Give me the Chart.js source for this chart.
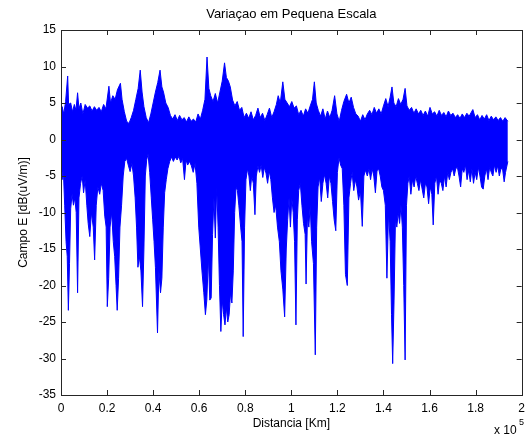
<!DOCTYPE html>
<html>
<head>
<meta charset="utf-8">
<title>Variaçao em Pequena Escala</title>
<script src="https://cdn.jsdelivr.net/npm/chart.js@4"></script>
<style>
  html, body { margin: 0; padding: 0; background: #ffffff; }
  canvas { display: block; }
</style>
</head>
<body>
<canvas id="chart" width="531" height="437"></canvas>
<script>
// distance in units of 1000 (axis shown as x 10^5)
const upperDist = [0, 0.5, 1.2, 2.0, 2.9, 3.3, 4.2, 5.0, 5.8, 6.5, 7.2, 7.8, 8.6, 9.5, 10.5, 11.5, 12.5, 13.5, 14.5, 15.5,
  16.5, 17.5, 18.5, 19.5, 20.8, 21.5, 22.5, 23.5, 24.5, 25.8, 26.5, 27.5, 28.5, 29.5, 30.5, 31.5, 32.5, 33.5, 34.4, 35.2,
  36.0, 37.0, 38.0, 39.0, 40.0, 41.0, 42.0, 43.0, 43.8, 44.5, 45.5, 46.5, 47.5, 48.5, 49.5, 50.5, 51.5, 52.5, 53.5, 54.5,
  55.5, 56.5, 57.5, 58.5, 59.5, 60.5, 61.5, 62.5, 63.4, 64.2, 65.0, 66.0, 67.0, 68.0, 69.0, 70.0, 71.0, 71.8, 72.7, 73.5,
  74.5, 75.5, 76.5, 77.5, 78.5, 79.5, 80.5, 81.5, 82.5, 83.5, 84.5, 85.5, 86.5, 87.5, 88.5, 89.5, 90.5, 91.5, 92.5, 93.5,
  94.3, 95.2, 96.3, 97.2, 98.2, 99.2, 100.2, 101.2, 102.2, 103.2, 104.2, 105.2, 106.2, 107.2, 108.2, 109.2, 110.0, 110.8, 111.7, 112.7,
  113.7, 114.7, 115.7, 116.7, 117.7, 118.8, 119.8, 120.8, 121.8, 122.8, 124.0, 125.0, 126.0, 127.0, 128.0, 129.0, 130.0, 131.0, 132.0, 133.0,
  134.0, 135.0, 136.0, 137.0, 138.0, 139.0, 140.0, 141.0, 142.0, 142.9, 143.7, 144.5, 145.5, 146.5, 147.5, 148.5, 149.4, 150.2, 151.2, 152.2,
  153.2, 154.2, 155.2, 156.2, 157.2, 158.2, 159.2, 160.2, 161.2, 162.2, 163.2, 164.2, 165.2, 166.2, 167.2, 168.2, 169.2, 170.2, 171.2, 172.2,
  173.2, 174.2, 175.2, 176.2, 177.2, 178.8, 179.8, 180.8, 181.8, 182.8, 183.8, 184.8, 185.8, 186.8, 187.8, 188.8, 189.8, 190.8, 191.8, 192.8, 194.0];
const upperDb = [3.0, 4.5, 3.5, 5.2, 8.7, 4.8, 5.0, 3.8, 4.8, 4.0, 6.4, 4.2, 5.0, 3.5, 4.8, 4.3, 4.6, 3.9, 4.5, 4.0,
  4.4, 3.8, 4.8, 4.2, 7.3, 5.0, 6.0, 5.5, 6.8, 7.7, 5.5, 3.8, 2.5, 2.2, 3.0, 4.0, 5.5, 7.0, 9.5, 6.5,
  4.5, 3.0, 2.3, 3.5, 5.0, 6.5, 7.8, 9.5, 7.2, 6.5, 5.0, 4.4, 3.3, 2.8, 3.4, 2.6, 3.3, 2.7, 3.0, 2.4,
  3.1, 2.5, 2.8, 2.4, 3.5, 2.8, 4.0, 5.5, 11.3, 7.0, 6.0, 5.2, 6.3, 5.0, 6.5, 8.0, 10.5, 8.5, 8.0, 7.2,
  5.4, 4.6, 5.2, 4.0, 4.4, 3.0, 3.6, 2.9, 3.8, 2.7, 3.3, 4.3, 3.0, 3.6, 2.6, 3.4, 4.3, 3.0, 3.8, 4.8,
  6.0, 5.0, 7.9, 5.5, 5.0, 4.5, 5.2, 4.3, 4.6, 3.4, 4.0, 3.2, 4.2, 3.6, 4.6, 5.5, 7.9, 5.0, 4.0, 3.2,
  4.2, 2.8, 3.9, 3.0, 4.0, 6.0, 3.5, 2.5, 4.0, 5.2, 6.2, 5.0, 5.8, 4.4, 3.5, 3.2, 2.5, 3.4, 2.7, 3.5,
  4.0, 3.4, 4.4, 3.6, 4.2, 3.5, 4.6, 5.6, 4.5, 5.8, 7.2, 5.0, 4.5, 5.6, 4.8, 5.5, 7.0, 4.6, 4.0, 4.4,
  3.6, 4.2, 3.5, 4.0, 3.3, 3.9, 3.2, 4.4, 3.5, 3.8, 3.2, 4.0, 3.3, 3.7, 3.1, 3.9, 3.3, 3.6, 3.0, 3.4,
  2.9, 3.5, 3.0, 3.6, 3.2, 4.1, 3.0, 3.4, 2.7, 3.3, 2.8, 3.4, 2.6, 3.2, 2.7, 3.1, 2.6, 3.0, 2.5, 3.0, 2.5];

const lowerDist = [0, 0.5, 1.0, 1.6, 2.2, 2.7, 3.2, 3.7, 4.2, 4.8, 5.4, 6.0, 6.6, 7.2, 7.8, 8.5, 9.2, 9.8, 10.5, 11.2,
  11.8, 12.5, 13.2, 14.0, 14.6, 15.3, 16.0, 16.8, 17.5, 18.3, 19.0, 19.6, 20.1, 20.7, 21.3, 22.0, 22.7, 23.3, 23.9, 24.4,
  25.0, 25.6, 26.3, 27.0, 27.7, 28.5, 29.2, 30.0, 30.8, 31.5, 32.2, 32.8, 33.4, 34.0, 34.7, 35.4, 36.0, 36.6, 37.2, 37.8,
  38.5, 39.2, 39.8, 40.4, 41.0, 41.9, 42.5, 43.2, 43.8, 44.4, 45.0, 45.7, 46.4, 47.2, 48.0, 48.8, 49.6, 50.4, 51.2, 52.0,
  52.8, 53.6, 54.3, 55.0, 55.8, 56.6, 57.4, 58.2, 59.0, 59.8, 60.5, 61.2, 62.0, 62.7, 63.3, 64.0, 64.6, 65.2, 65.8, 66.4,
  67.0, 67.6, 68.2, 68.8, 69.4, 70.0, 70.6, 71.2, 71.8, 72.4, 73.0, 73.6, 74.2, 74.8, 75.4, 76.0, 76.6, 77.2, 78.0, 78.6,
  79.1, 79.7, 80.3, 81.0, 81.6, 82.2, 82.8, 83.5, 84.2, 84.8, 85.5, 86.2, 86.9, 87.6, 88.3, 89.0, 89.7, 90.4, 91.1, 91.8,
  92.5, 93.2, 94.0, 94.8, 95.5, 96.3, 97.1, 97.8, 98.4, 99.0, 99.6, 100.2, 100.8, 101.4, 102.0, 102.6, 103.2, 103.9, 104.6, 105.3,
  106.0, 106.4, 107.0, 107.6, 108.2, 108.8, 109.6, 110.4, 111.0, 111.6, 112.3, 113.0, 113.7, 114.4, 115.1, 115.8, 116.5, 117.2, 117.9, 118.6,
  119.3, 120.0, 120.7, 121.4, 122.1, 122.8, 123.5, 124.3, 125.0, 125.7, 126.4, 127.1, 127.8, 128.5, 129.2, 130.0, 130.8, 131.5, 132.2, 133.0,
  133.7, 134.4, 135.1, 135.8, 136.5, 137.2, 137.9, 138.6, 139.3, 140.0, 140.8, 141.5, 142.2, 142.9, 143.5, 144.0, 144.6, 145.2, 145.8, 146.4,
  147.0, 147.6, 148.2, 148.8, 149.4, 150.0, 150.6, 151.2, 151.9, 152.6, 153.3, 154.0, 154.7, 155.4, 156.1, 156.8, 157.5, 158.2, 158.9, 159.6,
  160.3, 161.0, 161.6, 162.3, 163.0, 163.7, 164.4, 165.1, 165.8, 166.5, 167.2, 167.9, 168.6, 169.3, 170.0, 170.7, 171.4, 172.1, 172.8, 173.5,
  174.2, 174.9, 175.6, 176.3, 177.0, 177.7, 178.4, 179.1, 179.8, 180.5, 181.2, 181.9, 182.6, 183.3, 184.0, 184.7, 185.4, 186.1, 186.8, 187.5,
  188.2, 188.9, 189.6, 190.3, 191.0, 191.7, 192.4, 193.0, 194.0];
const lowerDb = [-3.0, -5.5, -4.0, -9.0, -14.0, -16.0, -23.4, -17.0, -9.5, -7.5, -9.0, -8.0, -10.0, -21.0, -8.0, -6.0, -5.0, -7.3, -5.5, -9.0,
  -11.5, -13.3, -10.0, -12.0, -16.5, -9.0, -6.5, -7.5, -6.0, -7.0, -10.5, -12.0, -22.9, -19.0, -12.0, -10.0, -14.0, -16.0, -20.0, -23.4,
  -19.0, -12.0, -9.0, -5.0, -3.0, -2.6, -3.5, -4.4, -3.3, -5.0, -8.0, -12.0, -17.5, -16.0, -18.0, -22.9, -15.0, -5.0, -2.8, -2.0,
  -4.5, -8.0, -11.0, -14.0, -17.5, -26.5, -18.0, -21.0, -19.0, -12.0, -7.3, -5.5, -4.0, -3.0, -2.4, -3.0, -2.4, -2.8, -2.3, -3.2,
  -2.6, -5.5, -2.8, -3.5, -3.0, -3.6, -4.5, -3.3, -6.0, -12.0, -15.0, -18.0, -21.0, -24.0, -22.0, -16.0, -22.0, -21.7, -13.0, -8.0,
  -13.5, -6.5, -12.0, -20.0, -26.3, -22.0, -24.0, -25.4, -23.0, -25.0, -24.0, -21.0, -22.4, -18.0, -10.0, -6.5, -7.0, -9.0, -12.0, -14.0,
  -27.0, -12.0, -5.5, -4.0, -5.0, -7.0, -5.0, -6.0, -10.3, -5.0, -3.6, -4.5, -3.5, -5.2, -3.8, -4.6, -6.0, -4.3, -5.5, -8.0,
  -10.0, -9.0, -12.0, -14.0, -18.0, -20.5, -24.3, -15.0, -11.0, -8.0, -12.0, -8.0, -10.0, -14.0, -25.4, -11.0, -7.0, -6.0, -9.0, -11.5,
  -13.0, -19.8, -10.5, -12.0, -9.0, -14.0, -17.0, -29.5, -12.0, -6.5, -5.2, -8.5, -6.0, -4.8, -6.0, -8.0, -5.0, -6.0, -8.5, -11.0,
  -12.5, -4.5, -2.5, -3.5, -4.0, -9.0, -18.5, -20.0, -8.0, -6.0, -4.5, -7.0, -5.5, -6.5, -8.3, -7.0, -11.9, -5.0, -4.2, -5.0,
  -4.0, -5.5, -4.0, -5.0, -7.3, -4.3, -4.0, -5.0, -6.5, -7.0, -9.0, -19.0, -10.0, -14.0, -24.0, -30.7, -22.0, -11.0, -12.0, -10.0,
  -11.5, -9.0, -12.0, -20.0, -30.2, -9.0, -6.0, -5.0, -7.5, -5.5, -6.5, -5.0, -6.0, -7.0, -5.5, -6.8, -8.0, -6.0, -6.5, -8.8,
  -6.5, -7.5, -11.7, -6.0, -5.0, -7.5, -5.5, -6.0, -7.0, -5.0, -6.5, -4.5, -5.5, -4.5, -4.0, -5.0, -4.0, -3.8, -5.0, -6.5,
  -4.0, -4.5, -3.5, -5.5, -4.2, -5.8, -4.0, -6.0, -4.5, -5.5, -3.8, -5.0, -6.5, -6.8, -5.0, -4.0, -5.5, -3.8, -4.5, -5.0,
  -3.5, -4.5, -3.6, -5.0, -4.0, -4.0, -5.8, -4.5, -3.0];

const yTicks = [15, 10, 5, 0, -5, -10, -15, -20, -25, -30, -35];
const xTicks = [0, 20, 40, 60, 80, 100, 120, 140, 160, 180, 200];

const lineBlue = "#0000ff";
const axisColor = "#262626";
const fontFamily = "'Liberation Sans', Arial, sans-serif";

const toPoints = (xs, ys) => xs.map((x, i) => ({ x, y: ys[i] }));

// MATLAB style box, inward ticks, title and exponent label
const matlabFrame = {
  id: "matlabFrame",
  afterDatasetsDraw(chart) {
    const { ctx, chartArea: area, scales } = chart;
    const tick = 5;
    ctx.save();
    ctx.strokeStyle = axisColor;
    ctx.lineWidth = 1;
    ctx.beginPath();
    xTicks.forEach((v) => {
      const px = Math.round(scales.x.getPixelForValue(v)) + 0.5;
      ctx.moveTo(px, area.bottom);
      ctx.lineTo(px, area.bottom - tick);
      ctx.moveTo(px, area.top);
      ctx.lineTo(px, area.top + tick);
    });
    yTicks.forEach((v) => {
      const py = Math.round(scales.y.getPixelForValue(v)) + 0.5;
      ctx.moveTo(area.left, py);
      ctx.lineTo(area.left + tick, py);
      ctx.moveTo(area.right, py);
      ctx.lineTo(area.right - tick, py);
    });
    ctx.stroke();
    ctx.strokeRect(Math.round(area.left) + 0.5, Math.round(area.top) + 0.5,
      Math.round(area.right - area.left), Math.round(area.bottom - area.top));

    ctx.fillStyle = "#000000";
    ctx.font = "13px " + fontFamily;
    ctx.textAlign = "center";
    ctx.textBaseline = "middle";
    ctx.fillText("Variaçao em Pequena Escala", (area.left + area.right) / 2, 14);

    ctx.font = "12px " + fontFamily;
    ctx.textAlign = "left";
    ctx.fillText("x 10", 494, 431);
    ctx.font = "9px " + fontFamily;
    ctx.fillText("5", 519, 423);
    ctx.restore();
  },
};

new Chart(document.getElementById("chart"), {
  type: "line",
  data: {
    datasets: [
      {
        label: "upper",
        data: toPoints(upperDist, upperDb),
        borderColor: lineBlue,
        backgroundColor: lineBlue,
        borderWidth: 1,
        pointRadius: 0,
        tension: 0,
        fill: false,
      },
      {
        label: "lower",
        data: toPoints(lowerDist, lowerDb),
        borderColor: lineBlue,
        backgroundColor: lineBlue,
        borderWidth: 1,
        pointRadius: 0,
        tension: 0,
        fill: "-1",
      },
    ],
  },
  options: {
    animation: false,
    responsive: false,
    layout: { padding: { top: 30, right: 5, left: 0, bottom: 0 } },
    plugins: {
      legend: { display: false },
      tooltip: { enabled: false },
    },
    scales: {
      x: {
        type: "linear",
        min: 0,
        max: 200,
        afterBuildTicks: (scale) => {
          scale.ticks = xTicks.map((value) => ({ value }));
        },
        afterFit: (scale) => {
          scale.height = 42;
        },
        border: { display: false },
        grid: { display: false, drawTicks: false },
        ticks: {
          color: "#000000",
          padding: 6,
          maxRotation: 0,
          font: { family: fontFamily, size: 12 },
          callback: (v) => String(+(v / 100).toFixed(1)),
        },
        title: {
          display: true,
          text: "Distancia [Km]",
          color: "#000000",
          font: { family: fontFamily, size: 12 },
          padding: { top: 0, bottom: 6 },
        },
      },
      y: {
        type: "linear",
        min: -35,
        max: 15,
        afterBuildTicks: (scale) => {
          scale.ticks = yTicks.map((value) => ({ value }));
        },
        afterFit: (scale) => {
          scale.width = 61;
        },
        border: { display: false },
        grid: { display: false, drawTicks: false },
        ticks: {
          color: "#000000",
          padding: 5,
          font: { family: fontFamily, size: 12 },
        },
        title: {
          display: true,
          text: "Campo E [dB(uV/m)]",
          color: "#000000",
          font: { family: fontFamily, size: 12 },
          padding: { top: 16, bottom: 0 },
        },
      },
    },
  },
  plugins: [matlabFrame],
});
</script>
</body>
</html>
